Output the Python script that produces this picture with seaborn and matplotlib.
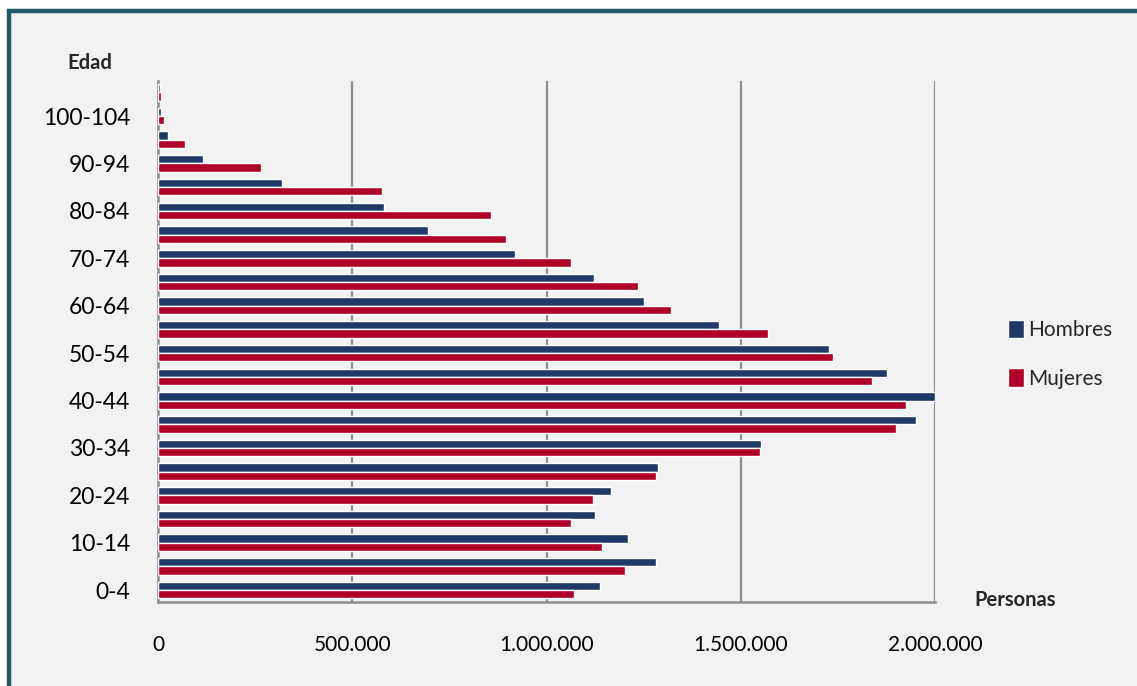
import matplotlib
matplotlib.use("Agg")
import matplotlib.pyplot as plt
from matplotlib.patches import Rectangle
from matplotlib.ticker import FuncFormatter, FixedLocator
import seaborn as sns
import pandas as pd

# ---- data ----
edades = ["0-4", "5-9", "10-14", "15-19", "20-24", "25-29", "30-34", "35-39",
          "40-44", "45-49", "50-54", "55-59", "60-64", "65-69", "70-74", "75-79",
          "80-84", "85-89", "90-94", "95-99", "100-104", "105-109"]
hombres = [1137000, 1281000, 1209000, 1126000, 1165000, 1286000, 1552000, 1951000,
           2000000, 1876000, 1727000, 1443000, 1250000, 1121000, 920000, 696000,
           582000, 320000, 116000, 25000, 8000, 5000]
mujeres = [1070000, 1201000, 1142000, 1062000, 1119000, 1281000, 1549000, 1899000,
           1925000, 1838000, 1737000, 1570000, 1320000, 1235000, 1064000, 897000,
           856000, 577000, 265000, 69000, 15000, 7000]
series = ["Hombres", "Mujeres"]
colores = ["#1F3A66", "#B00028"]
x_ticks = [0, 500000, 1000000, 1500000, 2000000]

df = pd.DataFrame({
    "Edad": edades * 2,
    "Personas": hombres + mujeres,
    "Sexo": [series[0]] * len(edades) + [series[1]] * len(edades),
})

sns.set_theme(style="white")
plt.rcParams["font.family"] = ["Lato", "DejaVu Sans"]

W, H = 1137, 686
fig = plt.figure(figsize=(W / 100, H / 100), dpi=100)
fig.patch.set_facecolor("white")
fig.add_artist(Rectangle((8.5 / W, -0.2), 2.0, (H - 11) / H + 0.2,
                         transform=fig.transFigure, facecolor="#F2F2F2",
                         edgecolor="#215968", linewidth=3.2, zorder=-10))

left, right = 158 / W, 935 / W
bottom, top = (H - 602) / H, (H - 80.5) / H
ax = fig.add_axes([left, bottom, right - left, top - bottom])
ax.set_facecolor("none")

order = edades[::-1]
sns.barplot(data=df, x="Personas", y="Edad", hue="Sexo", order=order,
            hue_order=series, palette=colores, orient="h", width=0.70,
            saturation=1, ax=ax, zorder=3)

ax.set_xlim(0, 2000000)
ax.set_ylim(len(edades) - 0.5, -0.5)
ax.xaxis.set_major_locator(FixedLocator(x_ticks))
ax.xaxis.set_major_formatter(FuncFormatter(lambda v, p: f"{v:,.0f}".replace(",", ".")))
ax.tick_params(axis="x", length=0, pad=24, labelsize=15, colors="black")

# y labels: every other age group
pos = list(range(len(order)))
labs = [lab if (edades.index(lab) % 2 == 0) else "" for lab in order]
ax.set_yticks(pos)
ax.set_yticklabels(labs)
ax.tick_params(axis="y", which="major", length=0, pad=20, labelsize=16.5, colors="black")
ax.set_yticks([p - 0.5 for p in range(len(order) + 1)], minor=True)
ax.tick_params(axis="y", which="minor", length=9, width=1.5, color="#8C8C8C")

ax.set_xlabel("")
ax.set_ylabel("")
for xv in x_ticks[1:]:
    ax.axvline(xv, color="#8C8C8C", lw=1.6, zorder=1)
for s in ["top", "right"]:
    ax.spines[s].set_visible(False)
for s in ["left", "bottom"]:
    ax.spines[s].set_color("#8C8C8C")
    ax.spines[s].set_linewidth(1.8)

leg = ax.legend(loc="center left", bbox_to_anchor=(1.07, 0.475), frameon=False,
                fontsize=15, handlelength=0.75, handleheight=1.0, handletextpad=0.2,
                labelspacing=1.35)

fig.text(90 / W, (H - 63) / H, "Edad", fontsize=14.5, fontweight="bold",
         ha="center", va="center")
fig.text(1015 / W, (H - 600) / H, "Personas", fontsize=14.5, fontweight="bold",
         ha="center", va="center")

fig.savefig("out.png", dpi=100)
